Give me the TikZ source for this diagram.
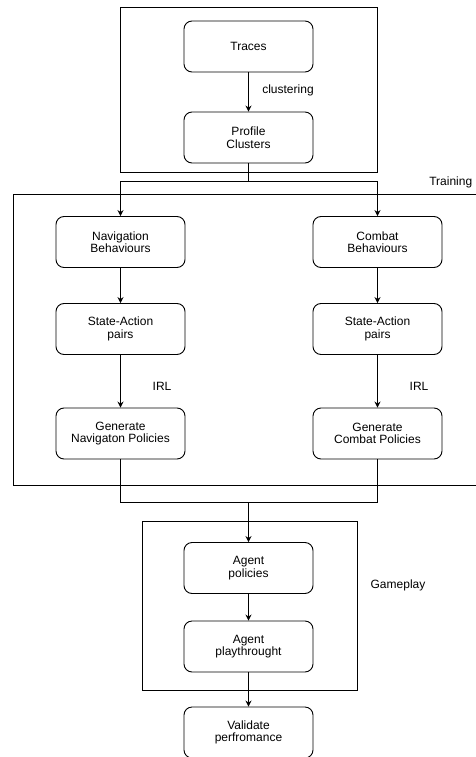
\documentclass[tikz,border=0pt]{standalone}
\usepackage{fontspec}
\setmainfont{Liberation Sans}
\usetikzlibrary{arrows.meta}

\begin{document}
\begin{tikzpicture}[x=1pt, y=-1pt,
  every node/.style={font=\fontsize{12}{12.5}\selectfont, align=center},
  block/.style={draw, rounded corners=8pt, minimum width=129pt, minimum height=51pt, inner sep=0pt},
  arr/.style={-{Stealth[length=6pt, width=6pt]}},
  line width=0.9pt]
  \useasboundingbox (0,0) rectangle (476,757);
  % containers
  \draw (120.5,7) rectangle (377.5,172);
  \draw (13,194) rectangle (490,485);
  \draw (142,521) rectangle (357,690);
  \node[anchor=east] (training) at (476,182) {Training};
  \node (gameplay) at (398,585) {Gameplay};
  % clustering
  \node[block] (traces) at (248.5,46.5) {Traces};
  \node[block] (profile) at (248.5,137.5) {Profile\\Clusters};
  \draw[arr] (traces) -- (profile);
  \node (clustering) at (288,90) {clustering};
  % training
  \node[block] (navbeh) at (120.5,242) {Navigation\\Behaviours};
  \node[block] (navpairs) at (120.5,329) {State-Action\\pairs};
  \node[block] (navpol) at (120.5,433.5) {Generate\\Navigaton Policies};
  \node[block] (combeh) at (377.5,242) {Combat\\Behaviours};
  \node[block] (compairs) at (377.5,329) {State-Action\\pairs};
  \node[block] (compol) at (377.5,433.5) {Generate\\Combat Policies};
  \node (navirl) at (162,386) {IRL};
  \node (comirl) at (419,386) {IRL};
  \coordinate (split) at (248.5,181);
  \draw (profile) -- (split);
  \draw[arr] (split) -| (navbeh.north);
  \draw[arr] (split) -| (combeh.north);
  \draw[arr] (navbeh) -- (navpairs);
  \draw[arr] (navpairs) -- (navpol);
  \draw[arr] (combeh) -- (compairs);
  \draw[arr] (compairs) -- (compol);
  % gameplay
  \node[block] (agentpol) at (248.5,568) {Agent\\policies};
  \node[block] (agentplay) at (248.5,646.5) {Agent\\playthrought};
  \node[block] (validate) at (248.5,732.5) {Validate\\perfromance};
  \coordinate (join) at (248.5,502);
  \draw (navpol.south) |- (join);
  \draw (compol.south) |- (join);
  \draw[arr] (join) -- (agentpol);
  \draw[arr] (agentpol) -- (agentplay);
  \draw[arr] (agentplay) -- (validate);
\end{tikzpicture}
\end{document}
